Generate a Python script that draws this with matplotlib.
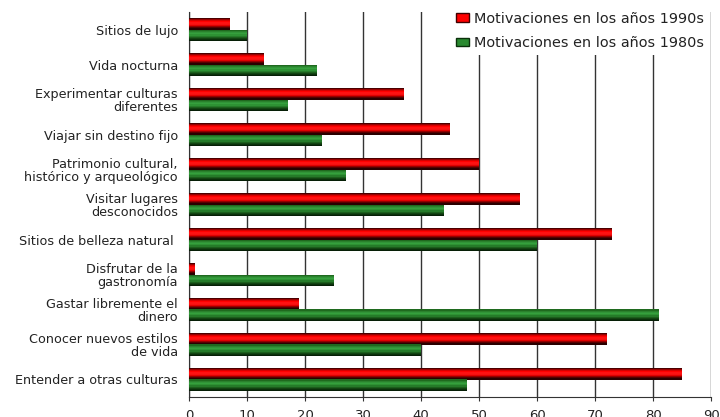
import numpy as np
import matplotlib.pyplot as plt
from matplotlib.colors import LinearSegmentedColormap
from matplotlib.patches import Patch

categorias = [
    'Sitios de lujo',
    'Vida nocturna',
    'Experimentar culturas\ndiferentes',
    'Viajar sin destino fijo',
    'Patrimonio cultural,\nhistórico y arqueológico',
    'Visitar lugares\ndesconocidos',
    'Sitios de belleza natural ',
    'Disfrutar de la\ngastronomía',
    'Gastar libremente el\ndinero',
    'Conocer nuevos estilos\nde vida',
    'Entender a otras culturas',
]
anos_1990 = [7, 13, 37, 45, 50, 57, 73, 1, 19, 72, 85]
anos_1980 = [10, 22, 17, 23, 27, 44, 60, 25, 81, 40, 48]

etiqueta_1990 = 'Motivaciones en los años 1990s'
etiqueta_1980 = 'Motivaciones en los años 1980s'

# fuente ancha para imitar el espaciado del original
plt.rcParams['font.family'] = ['DejaVu Sans']

rojo = LinearSegmentedColormap.from_list(
    'rojo', ['#4a0000', '#c00000', '#ff0000', '#ff1a1a', '#e00000', '#700000', '#2a0000'])
verde = LinearSegmentedColormap.from_list(
    'verde', ['#1f6a1f', '#2f8f35', '#35a03d', '#2a8a30', '#1c5e1c', '#0e3a0e', '#061f06'])

fig = plt.figure(figsize=(7.2, 4.17), dpi=100)
ax = fig.add_axes([0.2625, 0.048, 0.725, 0.923])

y = np.arange(len(categorias))
alto = 0.34
franjas = 10


def barras_degradado(valores, centros, cmap):
    h = alto / franjas
    for k in range(franjas):
        color = cmap(k / (franjas - 1))
        ax.barh(centros - alto / 2 + h * (k + 0.5), valores, height=h * 1.02,
                color=color, edgecolor='none', zorder=3)


barras_degradado(anos_1990, y - alto / 2, rojo)
barras_degradado(anos_1980, y + alto / 2, verde)

ax.set_xlim(0, 90)
ax.set_ylim(len(categorias) - 0.5, -0.5)
ax.set_xticks(range(0, 91, 10))
ax.set_yticks(y)
ax.set_yticklabels(categorias, fontsize=9.2, linespacing=1.0, color='#222222')
ax.tick_params(axis='y', length=0, pad=8)
ax.tick_params(axis='x', length=3, labelsize=9.5, pad=6, color='#333333',
               labelcolor='#222222')
ax.xaxis.grid(True, color='#333333', linewidth=1.0, zorder=0)
ax.set_axisbelow(True)
for s in ['top', 'right']:
    ax.spines[s].set_visible(False)
ax.spines['left'].set_color('#333333')
ax.spines['bottom'].set_color('#333333')

handles = [Patch(facecolor='#ff0000', edgecolor='#400000', label=etiqueta_1990),
           Patch(facecolor='#2a8a30', edgecolor='#0a300a', label=etiqueta_1980)]
leg = ax.legend(handles=handles, loc='upper right', bbox_to_anchor=(1.0, 1.02),
                fontsize=10.4, frameon=True, facecolor='white', edgecolor='none',
                framealpha=1, handlelength=0.85, handleheight=0.5, handletextpad=0.35,
                labelspacing=0.75, borderpad=0.3, borderaxespad=0.2)
leg.set_zorder(5)
for t in leg.get_texts():
    t.set_color('#222222')

fig.savefig('out.png', dpi=100)
